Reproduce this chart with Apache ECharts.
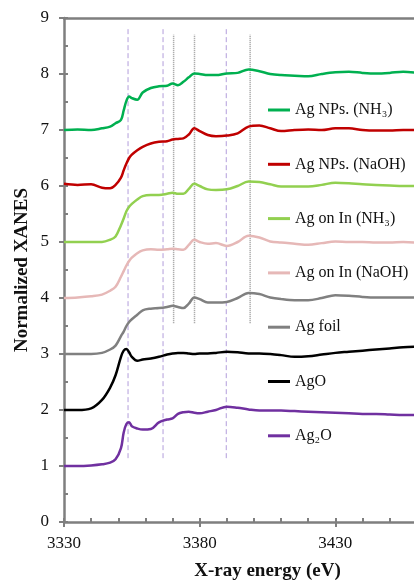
<!DOCTYPE html>
<html>
<head>
<meta charset="utf-8">
<script src="https://cdn.jsdelivr.net/npm/echarts@6/dist/echarts.min.js"></script>
<style>
html,body{margin:0;padding:0;background:#fff;}
#chart{width:414px;height:580px;}
</style>
</head>
<body>
<div id="chart"></div>
<script>
// ---- data ----
const energies = [3330, 3335, 3340, 3344, 3347, 3349, 3351, 3352, 3353, 3354, 3355, 3357, 3359, 3362, 3365, 3368, 3370, 3372, 3374, 3376, 3378, 3380, 3383, 3386, 3390, 3394, 3398, 3402, 3406, 3410, 3415, 3420, 3425, 3430, 3435, 3440, 3445, 3450, 3455, 3460];

const agNpsNH3 = [7.00, 7.01, 7.00, 7.03, 7.06, 7.12, 7.18, 7.35, 7.52, 7.60, 7.57, 7.54, 7.67, 7.75, 7.78, 7.79, 7.83, 7.80, 7.86, 7.94, 8.01, 8.00, 7.98, 7.98, 8.01, 8.02, 8.08, 8.05, 8.00, 7.98, 7.97, 7.96, 8.00, 8.03, 8.04, 8.02, 8.01, 8.02, 8.04, 8.02];
const agNpsNaOH = [6.04, 6.02, 6.03, 5.97, 5.96, 6.02, 6.15, 6.28, 6.40, 6.50, 6.56, 6.64, 6.70, 6.76, 6.79, 6.80, 6.83, 6.84, 6.85, 6.92, 7.03, 6.98, 6.91, 6.89, 6.90, 6.94, 7.06, 7.08, 7.03, 6.98, 7.00, 7.01, 7.00, 7.03, 7.03, 7.00, 6.99, 6.99, 7.00, 7.00];
const agOnInNH3 = [5.00, 5.00, 5.00, 5.00, 5.04, 5.10, 5.30, 5.42, 5.55, 5.63, 5.68, 5.76, 5.82, 5.84, 5.84, 5.86, 5.88, 5.86, 5.86, 5.95, 6.04, 6.00, 5.94, 5.93, 5.94, 6.00, 6.08, 6.07, 6.03, 5.99, 5.99, 5.99, 6.02, 6.06, 6.05, 6.03, 6.02, 6.01, 6.00, 6.00];
const agOnInNaOH = [4.00, 4.01, 4.03, 4.06, 4.13, 4.20, 4.38, 4.48, 4.58, 4.66, 4.72, 4.80, 4.85, 4.87, 4.86, 4.87, 4.88, 4.87, 4.86, 4.95, 5.04, 5.00, 4.97, 4.98, 4.93, 5.00, 5.11, 5.08, 5.01, 4.99, 4.97, 4.95, 4.98, 5.01, 5.00, 5.00, 4.99, 4.99, 5.00, 4.99];
const agFoil = [3.00, 3.00, 3.00, 3.02, 3.08, 3.15, 3.32, 3.40, 3.50, 3.57, 3.62, 3.70, 3.78, 3.81, 3.82, 3.84, 3.86, 3.84, 3.82, 3.90, 4.01, 3.98, 3.92, 3.92, 3.93, 4.00, 4.09, 4.07, 4.01, 3.98, 3.96, 3.96, 4.00, 4.05, 4.04, 4.02, 4.01, 4.01, 4.01, 4.01];
const agO = [2.00, 2.00, 2.03, 2.18, 2.40, 2.62, 2.95, 3.06, 3.09, 3.03, 2.95, 2.88, 2.90, 2.92, 2.95, 2.99, 3.01, 3.02, 3.02, 3.01, 3.00, 3.01, 3.01, 3.02, 3.04, 3.03, 3.01, 3.01, 3.00, 2.98, 2.95, 2.96, 2.99, 3.02, 3.04, 3.06, 3.08, 3.10, 3.12, 3.13];
const ag2O = [1.00, 1.00, 1.01, 1.03, 1.06, 1.12, 1.32, 1.60, 1.75, 1.78, 1.71, 1.67, 1.65, 1.66, 1.78, 1.83, 1.85, 1.93, 1.96, 1.97, 1.95, 1.94, 1.97, 2.00, 2.06, 2.04, 2.01, 1.99, 1.99, 1.99, 1.98, 1.97, 1.96, 1.95, 1.94, 1.93, 1.93, 1.92, 1.91, 1.91];

const seriesNames = ['Ag NPs. (NH\u2083)', 'Ag NPs. (NaOH)', 'Ag on In (NH\u2083)', 'Ag on In (NaOH)', 'Ag foil', 'AgO', 'Ag\u2082O'];
const seriesValues = [agNpsNH3, agNpsNaOH, agOnInNH3, agOnInNaOH, agFoil, agO, ag2O];
const seriesColors = ['#00b050', '#c00000', '#92d050', '#e6b8b7', '#808080', '#000000', '#7030a0'];

const purpleRefEnergies = [3353.6, 3366.5, 3389.8];
const purpleRefRange = [1.14, 8.82];
const grayRefEnergies = [3370.4, 3378.1, 3398.6];
const grayRefRange = [3.55, 8.70];

const xTicks = [3330, 3380, 3430];
const yTicks = [0, 1, 2, 3, 4, 5, 6, 7, 8, 9];
const yTitle = 'Normalized XANES';
const xTitle = 'X-ray energy (eV)';

// ---- chart ----
const FONT = "'Liberation Serif','DejaVu Serif',serif";
const AXIS_COLOR = '#7f7f7f';
const chart = echarts.init(document.getElementById('chart'), null, {renderer: 'canvas'});

const series = [];
purpleRefEnergies.forEach(function (e) {
  series.push({
    type: 'line', silent: true, symbol: 'none', z: 1,
    data: [[e, purpleRefRange[0]], [e, purpleRefRange[1]]],
    lineStyle: {color: '#b39ddb', width: 1, type: [5, 3]}
  });
});
grayRefEnergies.forEach(function (e) {
  series.push({
    type: 'line', silent: true, symbol: 'none', z: 1,
    data: [[e, grayRefRange[0]], [e, grayRefRange[1]]],
    lineStyle: {color: '#999999', width: 1.5, type: [1, 1]}
  });
});
seriesNames.forEach(function (name, k) {
  series.push({
    name: name, type: 'line', symbol: 'none', smooth: 0.35, z: 3,
    data: energies.map(function (e, i) { return [e, seriesValues[k][i]]; }),
    lineStyle: {color: seriesColors[k], width: 2.5},
    itemStyle: {color: seriesColors[k]}
  });
});

const option = {
  animation: false,
  backgroundColor: '#ffffff',
  grid: {left: 64, top: 18, width: 407, bottom: 58, containLabel: false, outerBoundsMode: 'none'},
  graphic: [{
    type: 'text', x: 22, y: 270, rotation: Math.PI / 2,
    style: {text: yTitle, fontFamily: FONT, fontSize: 19, fontWeight: 'bold', fill: '#111',
      align: 'center', verticalAlign: 'middle'}
  }],
  legend: {
    data: seriesNames,
    orient: 'vertical',
    left: 263, top: 97,
    itemWidth: 22, itemHeight: 3, itemGap: 38.3,
    icon: 'rect',
    textStyle: {fontFamily: FONT, fontSize: 16, color: '#111', lineHeight: 16}
  },
  xAxis: [{
    type: 'value', position: 'bottom', min: 3330, max: 3480, interval: 50,
    name: xTitle, nameLocation: 'middle', nameGap: 40,
    nameTextStyle: {fontFamily: FONT, fontSize: 19, fontWeight: 'bold', color: '#111'},
    axisLine: {show: true, lineStyle: {color: AXIS_COLOR, width: 2.5}},
    axisTick: {show: true, inside: false, length: 5, lineStyle: {color: AXIS_COLOR, width: 2}},
    axisLabel: {fontFamily: FONT, fontSize: 17, color: '#111', margin: 13,
      formatter: function (v) { return xTicks.indexOf(v) >= 0 ? String(v) : ''; }},
    splitLine: {show: false}
  }, {
    type: 'value', position: 'bottom', min: 3330, max: 3480, interval: 50,
    axisLine: {show: false},
    axisTick: {show: true, inside: true, length: 4, lineStyle: {color: AXIS_COLOR, width: 2}},
    minorTick: {show: true, splitNumber: 5, length: 4, lineStyle: {color: AXIS_COLOR, width: 2}},
    axisLabel: {show: false}, splitLine: {show: false}
  }, {
    type: 'value', position: 'top', min: 3330, max: 3480,
    axisLine: {show: true, lineStyle: {color: AXIS_COLOR, width: 2.5}},
    axisTick: {show: false}, axisLabel: {show: false}, splitLine: {show: false}
  }],
  yAxis: [{
    type: 'value', position: 'left', min: 0, max: 9, interval: 1,
    axisLine: {show: true, lineStyle: {color: AXIS_COLOR, width: 2.5}},
    axisTick: {show: true, inside: false, length: 5, lineStyle: {color: AXIS_COLOR, width: 2}},
    axisLabel: {fontFamily: FONT, fontSize: 17, color: '#111', margin: 15,
      formatter: function (v) { return yTicks.indexOf(v) >= 0 ? String(v) : ''; }},
    splitLine: {show: false}
  }, {
    type: 'value', position: 'left', min: 0, max: 9, interval: 1,
    axisLine: {show: false},
    axisTick: {show: true, inside: true, length: 4, lineStyle: {color: AXIS_COLOR, width: 2}},
    minorTick: {show: true, splitNumber: 2, length: 4, lineStyle: {color: AXIS_COLOR, width: 2}},
    axisLabel: {show: false}, splitLine: {show: false}
  }],
  series: series
};
chart.setOption(option);
</script>
</body>
</html>
